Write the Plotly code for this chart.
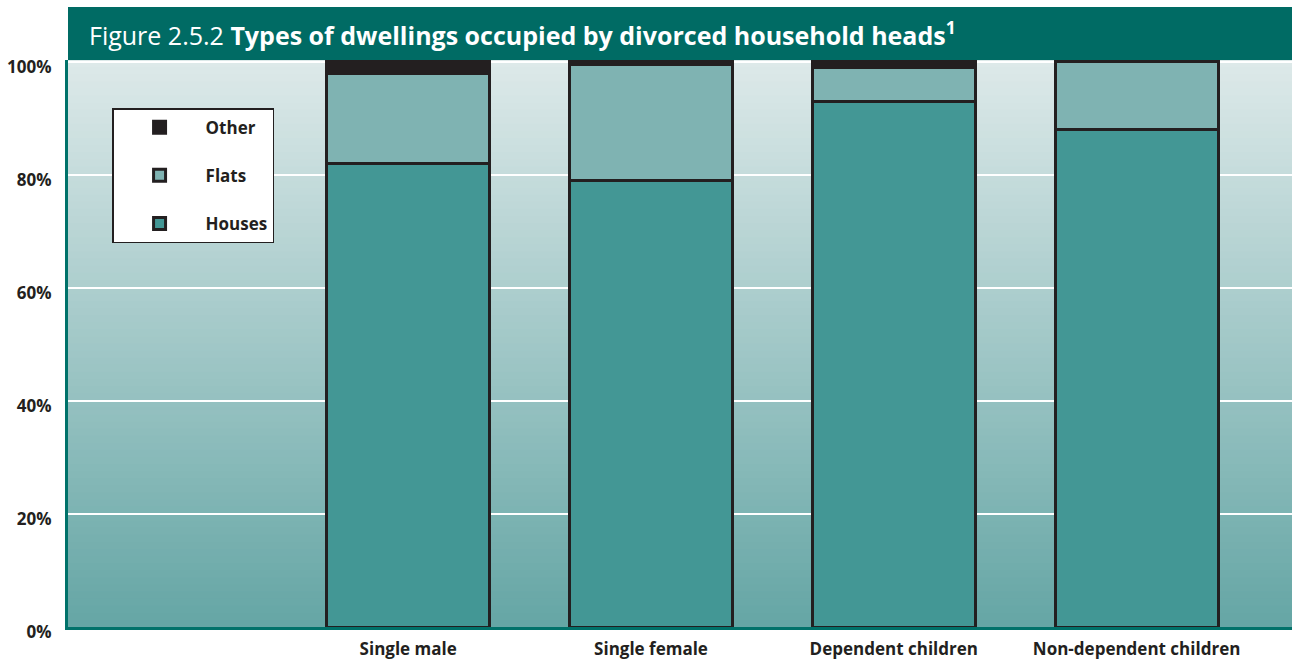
import plotly.graph_objects as go

categories = ["", "Single male", "Single female", "Dependent children", "Non-dependent children"]
houses = [None, 82, 79, 93, 88]
flats = [None, 16, 20.5, 6, 12]
other = [None, 2, 0.5, 1, 0]
y_ticks = [0, 20, 40, 60, 80, 100]
y_tick_labels = ["0%", "20%", "40%", "60%", "80%", "100%"]

FONT = "Open Sans"
DARK = "#231f20"
x_pos = list(range(len(categories)))

fig = go.Figure()
series = [("Houses", houses, "#439795", 3), ("Flats", flats, "#7fb3b2", 2), ("Other", other, "#231f20", 1)]
for name, vals, col, rank in series:
    fig.add_trace(go.Bar(
        x=x_pos, y=vals, name=name, width=0.671,
        marker=dict(color=col, line=dict(color=DARK, width=3)),
        legendgroup=name, legendrank=rank,
    ))

# gradient background bands
top = (221, 233, 233)
bot = (101, 166, 165)
N = 80
for i in range(N):
    t = i / (N - 1)
    c = tuple(round(bot[k] + (top[k] - bot[k]) * t) for k in range(3))
    fig.add_shape(type="rect", xref="x domain", yref="y domain",
                  x0=0, x1=1, y0=i / N, y1=(i + 1) / N + 0.002,
                  fillcolor="rgb(%d,%d,%d)" % c, line=dict(width=0), layer="below")

# title bar
fig.add_shape(type="rect", xref="paper", yref="paper", x0=0, x1=1, y0=1.0, y1=1.0935,
              fillcolor="#006b64", line=dict(width=0), layer="above")
fig.add_annotation(xref="paper", yref="paper", x=0.0155, y=1.047, xanchor="left", yanchor="middle",
                   text="Figure 2.5.2 <b>Types of dwellings occupied by divorced household heads<sup>1</sup></b>",
                   showarrow=False, font=dict(family=FONT, size=25, color="white"))

fig.update_layout(
    barmode="stack",
    width=1292, height=662,
    margin=dict(l=68, r=0, t=60, b=35, pad=0),
    paper_bgcolor="white",
    plot_bgcolor="#a9cccb",
    font=dict(family=FONT, color=DARK),
    showlegend=True,
    legend=dict(
        x=0.036, y=0.915, xanchor="left", yanchor="top",
        bgcolor="white", bordercolor=DARK, borderwidth=1.5,
        traceorder="grouped", tracegroupgap=23,
        font=dict(family=FONT, size=17, color=DARK, weight="bold"),
        itemwidth=82,
    ),
    xaxis=dict(
        tickmode="array", tickvals=x_pos, ticktext=["<b>%s</b>" % c for c in categories],
        range=[-0.401, 4.64], showgrid=False, zeroline=False,
        showline=True, linecolor="#00726a", linewidth=3,
        tickfont=dict(family=FONT, size=17, color=DARK),
        ticks="outside", ticklen=5, tickcolor="rgba(0,0,0,0)",
    ),
    yaxis=dict(
        tickmode="array", tickvals=y_ticks, ticktext=["<b>%s</b>" % t for t in y_tick_labels],
        range=[0, 100.35], showgrid=True, gridcolor="white", gridwidth=1.5,
        zeroline=False, showline=True, linecolor="#00726a", linewidth=3,
        tickfont=dict(family=FONT, size=17, color=DARK), ticks="outside", ticklen=10,
        tickcolor="rgba(0,0,0,0)", ticklabelshift=5,
    ),
)

fig.write_html("out.html")
